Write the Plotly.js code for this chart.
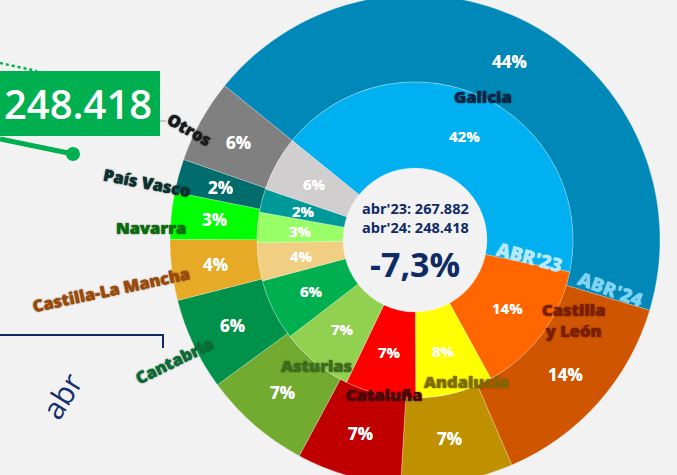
<!DOCTYPE html>
<html><head><meta charset="utf-8">
<script src="https://cdn.plot.ly/plotly-3.0.1.min.js"></script>
<style>
html,body{margin:0;padding:0;overflow:hidden;background:#f2f2f2;width:677px;height:475px}
#chart{position:absolute;left:0;top:-100px;width:677px;height:675px}
</style>
</head><body><div id="chart"></div>
<script>
// ---- data ----
const regions = ['Galicia','Castilla y León','Andalucía','Cataluña','Asturias','Cantabria','Castilla-La Mancha','Navarra','País Vasco','Otros'];
const share23 = [42.4, 13.8, 7.9, 7.2, 7.4, 6.3, 3.9, 3.1, 2.4, 5.6];   // inner ring (abr'23), %
const share24 = [43.8, 13.9, 7.4, 6.9, 7.1, 6.1, 4.0, 3.1, 2.2, 5.5];   // outer ring (abr'24), %
const colors23 = ['#00B0F0','#FF6600','#FFFF00','#FF0000','#92D050','#00B050','#F0CE82','#99FF66','#009999','#D0CECE'];
const colors24 = ['#0088B9','#D05500','#BF9000','#C00000','#72AB2F','#00924A','#E6AA26','#00FF00','#006C6C','#808080'];
const periodLabels = ["abr'23", "abr'24"];
const totals = [267882, 248418];

// ---- geometry (page pixels) ----
const W = 677, H = 675, TOP = -100;
const CX = 415, CY = 240, R_OUT = 245, R_MID = 158, R_IN = 72, ROT = -51;
const px = x => x / W;
const py = y => 1 - (y - TOP) / H;
const fmt = n => String(n).replace(/\B(?=(\d{3})+(?!\d))/g, '.');

const NAVY = '#0F2B66';
const FONT = 'Open Sans, Noto Sans, sans-serif';

const traces = [
  {type:'pie', values: share24, labels: regions, sort:false, direction:'clockwise', rotation: ROT,
   hole: R_MID / R_OUT, textinfo:'none', hoverinfo:'label+percent',
   marker:{colors: colors24, line:{color:'rgba(255,255,255,0.35)', width:0.7}},
   domain:{x:[(CX-R_OUT)/W,(CX+R_OUT)/W], y:[py(CY+R_OUT), py(CY-R_OUT)]}},
  {type:'pie', values: share23, labels: regions, sort:false, direction:'clockwise', rotation: ROT,
   hole: R_IN / R_MID, textinfo:'none', hoverinfo:'label+percent',
   marker:{colors: colors23, line:{color:'rgba(255,255,255,0.35)', width:0.7}},
   domain:{x:[(CX-R_MID)/W,(CX+R_MID)/W], y:[py(CY+R_MID), py(CY-R_MID)]}}
];

const ann = [];
function addText(x, y, text, font, extra) {
  ann.push(Object.assign({xref:'paper', yref:'paper', x:px(x), y:py(y), text:text, showarrow:false,
    xanchor:'center', yanchor:'middle', font:font}, extra || {}));
}
// percentage labels centred in each slice
function pctLabels(vals, r, size) {
  const sum = vals.reduce((a,b)=>a+b,0);
  let cum = 0;
  vals.forEach(v => {
    const a = (ROT + (cum + v/2) / sum * 360) * Math.PI / 180;
    cum += v;
    addText(CX + r*Math.sin(a), CY - r*Math.cos(a), Math.round(v/sum*100) + '%',
      {family:FONT, size:size, color:'#ffffff', weight:700, shadow:'0 0 0.6px #ffffff'});
  });
}
pctLabels(share24, (R_MID + R_OUT)/2, 17);
pctLabels(share23, (R_IN + R_MID)/2, 15);

// region names
const nameStyle = [
  ['Galicia',            483,  97,   0, '#0B2545'],
  ['Castilla<br>y León', 573, 320,   0, '#7A1E00'],
  ['Andalucía',          466, 381,   0, '#7F6A00'],
  ['Cataluña',           384, 394,   0, '#4A0808'],
  ['Asturias',           316, 365,   0, '#3E6B1E'],
  ['Cantabria',          174, 360, -26, '#0F6B35'],
  ['Castilla-La Mancha', 111, 290, -12, '#9C4A0A'],
  ['Navarra',            151, 228,   0, '#0B6B0B'],
  ['País Vasco',         147, 182,  11, '#0D3030'],
  ['Otros',              190, 129,  30, '#1A1A1A']
];
nameStyle.forEach(([t,x,y,ang,c]) => addText(x, y, t,
  {family:FONT, size:16.5, color:c, weight:800, shadow:`0 0 1px ${c}, 0 0 2px rgba(0,0,0,0.4)`}, {textangle:ang}));

// ring period tags
addText(529, 257, "ABR'23", {family:FONT, size:19, color:'#B8E9FF', weight:800, shadow:'0 0 0.8px #B8E9FF'}, {textangle:15});
addText(610, 289, "ABR'24", {family:FONT, size:19, color:'#7FD3F4', weight:800, shadow:'0 0 0.8px #7FD3F4'}, {textangle:20});

// centre texts
addText(CX, 208, periodLabels[0] + ': ' + fmt(totals[0]), {family:FONT, size:14.5, color:NAVY, weight:700});
addText(CX, 228, periodLabels[1] + ': ' + fmt(totals[1]), {family:FONT, size:14.5, color:NAVY, weight:700});
const chg = ((totals[1]/totals[0] - 1) * 100).toFixed(1).replace('.', ',') + '%';
addText(CX, 264, chg, {family:FONT, size:34, color:NAVY, weight:700});

// left-side KPI box and decorations
addText(78, 103, fmt(totals[1]), {family:FONT, size:40, color:'#ffffff', weight:600});
addText(61, 396, 'abr', {family:FONT, size:30, color:'#14306E', weight:400}, {textangle:-58});

const shapes = [
  {type:'rect', xref:'paper', yref:'paper', x0:px(0), x1:px(160), y0:py(136), y1:py(71), fillcolor:'#00B050', line:{width:0}, layer:'below'},
  {type:'line', xref:'paper', yref:'paper', x0:px(0), y0:py(63), x1:px(37), y1:py(71), line:{color:'#00B050', width:2.5, dash:'dot'}},
  {type:'line', xref:'paper', yref:'paper', x0:px(0), y0:py(139), x1:px(73), y1:py(154), line:{color:'#00B050', width:5}},
  {type:'circle', xref:'paper', yref:'paper', x0:px(66), x1:px(80), y0:py(161), y1:py(147), fillcolor:'#00B050', line:{width:0}},
  {type:'line', xref:'paper', yref:'paper', x0:px(160), y0:py(121), x1:px(166), y1:py(121), line:{color:'#9a9a9a', width:1}},
  {type:'path', xref:'paper', yref:'paper', path:`M ${px(0)} ${py(335)} L ${px(163)} ${py(335)} L ${px(163)} ${py(348)}`, line:{color:'#0F2B66', width:2}}
];

Plotly.newPlot('chart', traces, {
  width: W, height: H, margin:{l:0,r:0,t:0,b:0},
  paper_bgcolor:'#f2f2f2', plot_bgcolor:'#f2f2f2', showlegend:false,
  annotations: ann, shapes: shapes
}, {displayModeBar:false, staticPlot:true});
</script>
</body></html>
